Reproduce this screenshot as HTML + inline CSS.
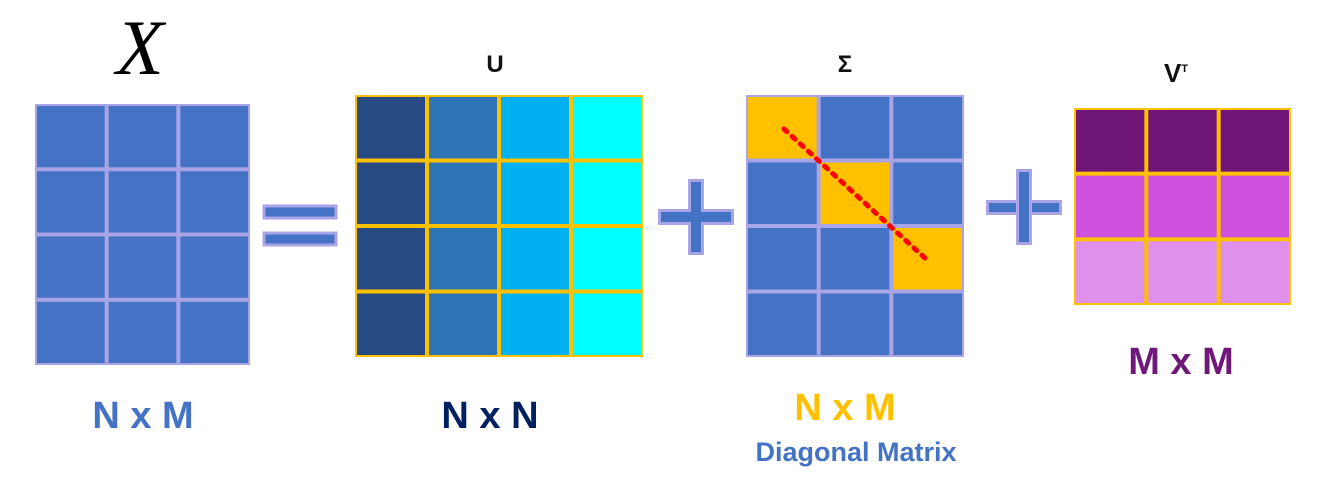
<!DOCTYPE html>
<html><head><meta charset="utf-8"><style>
html,body{margin:0;padding:0;background:#fff;width:1329px;height:477px;overflow:hidden}
.sans{font-family:"Liberation Sans","DejaVu Sans",sans-serif}
</style></head><body>
<svg id="svg" width="1329" height="477" viewBox="0 0 1329 477" xmlns="http://www.w3.org/2000/svg">
<text x="140" y="74" style="font-family:'Liberation Serif','DejaVu Serif',serif;font-style:italic" font-size="78" text-anchor="middle" fill="#000">X</text>
<text class="sans" x="495" y="72" font-size="24" font-weight="bold" text-anchor="middle" fill="#111">U</text>
<text class="sans" x="845" y="72" font-size="24" font-weight="bold" text-anchor="middle" fill="#111">Σ</text>
<text class="sans" x="1176" y="82" font-size="26" font-weight="bold" text-anchor="middle" fill="#111">V<tspan font-size="11" dy="-10">T</tspan></text>

<g id="mx"></g>
<g id="mu"></g>
<g id="ms"></g>
<g id="mv"></g>

<g fill="#4472c4" stroke="#a9a4e6" stroke-width="3">
<rect x="264" y="206" width="72" height="12"/><rect x="264" y="233" width="72" height="12"/></g>
<g fill="#4472c4" stroke="#a9a4e6" stroke-width="3">
<rect x="689.5" y="180.5" width="13" height="73"/><rect x="659.5" y="210.5" width="73" height="13"/><rect x="691" y="209" width="10" height="16" stroke="none"/></g>
<g fill="#4472c4" stroke="#a9a4e6" stroke-width="3">
<rect x="987.5" y="201.5" width="73" height="12"/><rect x="1017.5" y="170.5" width="13" height="73"/></g>

<line x1="784" y1="129" x2="926" y2="259" stroke="#ff0000" stroke-width="5" stroke-dasharray="4 7" stroke-linecap="round"/>

<text class="sans" x="143" y="428" font-size="38" font-weight="bold" text-anchor="middle" fill="#4472c4">N x M</text>
<text class="sans" x="490" y="428" font-size="38" font-weight="bold" text-anchor="middle" fill="#002060">N x N</text>
<text class="sans" x="845" y="420" font-size="38" font-weight="bold" text-anchor="middle" fill="#ffc000">N x M</text>
<text class="sans" x="856" y="461" font-size="27" font-weight="bold" text-anchor="middle" fill="#4472c4">Diagonal Matrix</text>
<text class="sans" x="1181" y="374" font-size="38" font-weight="bold" text-anchor="middle" fill="#70177a">M x M</text>
</svg>
<script>
const NS='http://www.w3.org/2000/svg';
function grid(id,x,y,w,h,rows,cols,border,colorFn){
  const g=document.getElementById(id);
  const cw=w/cols,ch=h/rows;
  const bg=document.createElementNS(NS,'rect');
  bg.setAttribute('x',x);bg.setAttribute('y',y);bg.setAttribute('width',w);bg.setAttribute('height',h);bg.setAttribute('fill',border);
  
  
  g.appendChild(bg);
  for(let r=0;r<rows;r++)for(let c=0;c<cols;c++){
    const e=document.createElementNS(NS,'rect');
    e.setAttribute('x',x+c*cw+2);e.setAttribute('y',y+r*ch+2);
    e.setAttribute('width',cw-4);e.setAttribute('height',ch-4);
    e.setAttribute('fill',colorFn(r,c));
    
    
    g.appendChild(e);
  }
}
const blue='#4472c4',lav='#a9a4e6',gold='#ffc000';
const uCols=['#284a83','#2e75b6','#00b0f0','#00ffff'];
const vRows=['#6f1677','#cf52de','#df90ea'];
grid('mx',35,104,215,261,4,3,lav,()=>blue);
grid('mu',355,95,288,262,4,4,gold,(r,c)=>uCols[c]);
grid('ms',746,95,218,262,4,3,lav,(r,c)=>r===c?gold:blue);
grid('mv',1074,108,217,197,3,3,gold,(r)=>vRows[r]);
</script>
</body></html>
